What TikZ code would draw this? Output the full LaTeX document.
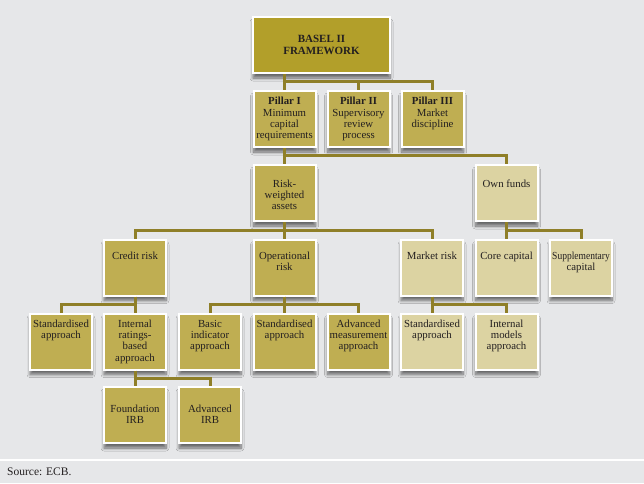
\documentclass[tikz,border=0pt]{standalone}
\usepackage{fontspec}
\setmainfont{Liberation Serif}
\usepackage{graphicx}
\usetikzlibrary{shadows.blur}
\definecolor{ecbdark}{RGB}{178,159,42}
\definecolor{ecbmid}{RGB}{191,174,82}
\definecolor{ecblight}{RGB}{220,211,162}
\definecolor{ecbline}{RGB}{143,127,40}
\definecolor{ecbback}{RGB}{230,231,233}
\definecolor{ecbtext}{RGB}{35,31,32}
\newcommand{\boxtext}[2]{\parbox[t][50pt][t]{62pt}{\centering\vspace*{#1pt}#2}}

\begin{document}
\begin{tikzpicture}[x=1pt, y=-1pt,
      box/.style={draw=white, line width=2pt, fill=ecbmid, text=ecbtext,
                  minimum width=62pt, minimum height=56pt, inner sep=0pt,
                  font=\fontsize{10.8}{11.2}\selectfont,
                  blur shadow={shadow xshift=0pt, shadow yshift=-5pt,
                               shadow blur radius=3pt, shadow blur steps=8,
                               shadow opacity=55}},
      pale/.style={box, fill=ecblight},
      link/.style={draw=ecbline, line width=3pt}]

    \useasboundingbox (0,0) rectangle (644,483);
    \fill[ecbback] (0,0) rectangle (644,483);
    \draw[white, line width=2pt] (0,460) -- (644,460);

    \node[box, fill=ecbdark, minimum width=137pt, align=center,
          font=\fontsize{11}{12}\selectfont\bfseries]
      (basel) at (321.5,45) {BASEL II\\FRAMEWORK};

    \node[box] (p1) at (284.5,119) {\boxtext{3.5}{\textbf{Pillar I}\\Minimum\\capital\\requirements}};
    \node[box] (p2) at (358.5,119) {\boxtext{3.5}{\textbf{Pillar II}\\Supervisory\\review\\process}};
    \node[box] (p3) at (432.5,119) {\boxtext{3.5}{\textbf{Pillar III}\\Market\\discipline}};

    \node[box]  (rwa) at (284.5,193) {\boxtext{11.5}{Risk-\\weighted\\assets}};
    \node[pale] (own) at (506.5,193) {\boxtext{11.5}{Own funds}};

    \node[box]  (credit) at (135,267.5)   {\boxtext{9.5}{Credit risk}};
    \node[box]  (oper)   at (284.5,267.5) {\boxtext{9.5}{Operational\\risk}};
    \node[pale] (market) at (432,267.5)   {\boxtext{9.5}{Market risk}};
    \node[pale] (core)   at (506.5,267.5) {\boxtext{9.5}{Core capital}};
    \node[pale] (supp)   at (581,267.5)   {\boxtext{9.5}{\scalebox{0.88}[1]{Supplementary}\\capital}};

    \node[box]  (std1)  at (61,341.5)    {\boxtext{3.5}{Standardised\\approach}};
    \node[box]  (irb)   at (135,341.5)   {\boxtext{3.5}{Internal\\ratings-\\based\\approach}};
    \node[box]  (basic) at (210,341.5)   {\boxtext{3.5}{Basic\\indicator\\approach}};
    \node[box]  (std2)  at (284.5,341.5) {\boxtext{3.5}{Standardised\\approach}};
    \node[box]  (adv)   at (358.5,341.5) {\boxtext{3.5}{Advanced\\measurement\\approach}};
    \node[pale] (std3)  at (432,341.5)   {\boxtext{3.5}{Standardised\\approach}};
    \node[pale] (intm)  at (506.5,341.5) {\boxtext{3.5}{Internal\\models\\approach}};

    \node[box] (found) at (135,415) {\boxtext{14.5}{Foundation\\IRB}};
    \node[box] (airb)  at (210,415) {\boxtext{14.5}{Advanced\\IRB}};

    \node[anchor=west, inner sep=0pt, text=ecbtext, font=\fontsize{11.5}{13}\selectfont]
      (src) at (7,472) {Source: ECB.};

    % tree links
    \draw[link] (basel.south -| p1.north) -- (p1.north);
    \foreach \kid in {p2,p3}
      \draw[link] (basel.south -| p1.north) -- ++(0,7) -| (\kid.north);
    \draw[link] (p1.south) -- (rwa.north);
    \draw[link] (p1.south) -- ++(0,7) -| (own.north);
    \foreach \kid in {credit,oper,market}
      \draw[link] (rwa.south) -- ++(0,8) -| (\kid.north);
    \foreach \kid in {core,supp}
      \draw[link] (own.south) -- ++(0,8) -| (\kid.north);
    \foreach \kid in {std1,irb}
      \draw[link] (credit.south) -- ++(0,8) -| (\kid.north);
    \foreach \kid in {basic,std2,adv}
      \draw[link] (oper.south) -- ++(0,8) -| (\kid.north);
    \foreach \kid in {std3,intm}
      \draw[link] (market.south) -- ++(0,8) -| (\kid.north);
    \foreach \kid in {found,airb}
      \draw[link] (irb.south) -- ++(0,8) -| (\kid.north);
  \end{tikzpicture}
\end{document}
